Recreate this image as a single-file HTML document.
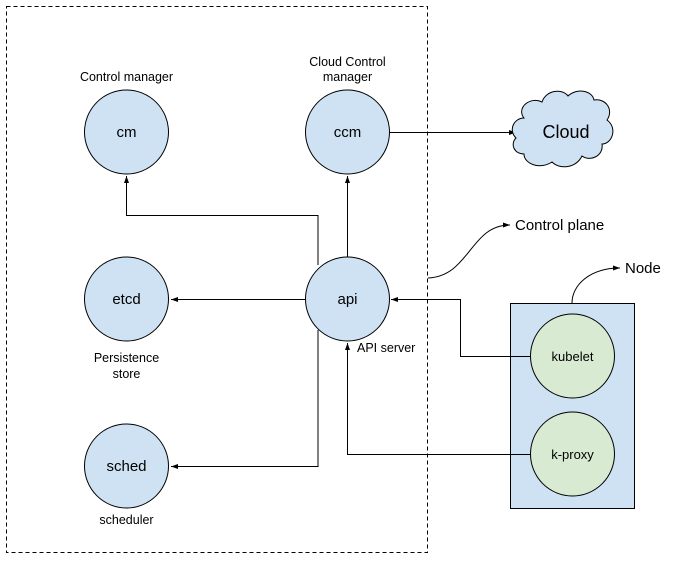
<!DOCTYPE html><html><head><style>body{margin:0;background:#fff}svg{display:block}text{font-family:"Liberation Sans",Arial,sans-serif;fill:#000}</style></head><body>
<svg width="674" height="563" viewBox="0 0 674 563">
<defs><marker id="a" markerWidth="8" markerHeight="8" refX="7" refY="4" orient="auto" markerUnits="userSpaceOnUse"><path d="M0,1.5 L7,4 L0,6.5z" fill="#000"/></marker></defs>
<rect x="6.5" y="6.5" width="421" height="546" fill="none" stroke="#000" stroke-dasharray="4,3"/>
<rect x="510.5" y="303.5" width="124" height="205" fill="#cfe2f3" stroke="#000"/>
<g stroke="#000" stroke-width="1" fill="none">
<path d="M318,265 V215.5 H126.5 V176" marker-end="url(#a)"/>
<path d="M347.5,257 V176" marker-end="url(#a)"/>
<path d="M305,299.5 H171" marker-end="url(#a)"/>
<path d="M318,330 V466.5 H171" marker-end="url(#a)"/>
<path d="M530,356.5 H460.5 V299.5 H391" marker-end="url(#a)"/>
<path d="M530,454.5 H347.5 V343" marker-end="url(#a)"/>
<path d="M389,132.5 H516" marker-end="url(#a)"/>
<path d="M428,278 C470,276 470,225 510,225" marker-end="url(#a)"/>
<path d="M572,303 C572,285 590,268 620,268" marker-end="url(#a)"/>
</g>
<g fill="#cfe2f3" stroke="#000">
<circle cx="126.5" cy="132" r="42"/><circle cx="347.5" cy="132" r="42"/>
<circle cx="126.5" cy="299" r="42"/><circle cx="347.5" cy="299" r="42"/>
<circle cx="126.5" cy="466" r="42"/>
<path d="M524,118 C516,108 530,96 542,102 C546,90 562,88 568,96 C576,88 592,90 594,100 C606,98 614,110 607,120 C618,128 612,144 602,144 C604,156 590,162 582,156 C576,168 560,170 552,162 C540,170 524,164 524,154 C514,154 510,144 516,138 C508,130 514,118 524,118Z"/>
</g>
<g fill="#d9ead3" stroke="#000"><circle cx="572.5" cy="356" r="42"/><circle cx="572.5" cy="454" r="42"/></g>
<g font-size="15" text-anchor="middle">
<text x="126.5" y="137">cm</text><text x="347.5" y="137">ccm</text>
<text x="126.5" y="304">etcd</text><text x="347.5" y="304">api</text>
<text x="126.5" y="471">sched</text>
</g>
<g font-size="13" text-anchor="middle">
<text x="572.5" y="361">kubelet</text><text x="572.5" y="459">k-proxy</text>
</g>
<g font-size="12.5" text-anchor="middle">
<text x="126.5" y="81">Control manager</text>
<text x="347.5" y="66">Cloud Control</text><text x="347.5" y="81">manager</text>
<text x="126.5" y="362">Persistence</text><text x="126.5" y="378">store</text>
<text x="126.5" y="524">scheduler</text>
</g>
<text x="357" y="352" font-size="12.5">API server</text>
<text x="566" y="138" font-size="18" text-anchor="middle">Cloud</text>
<text x="515" y="230" font-size="15">Control plane</text>
<text x="625" y="273" font-size="15">Node</text>
</svg></body></html>
